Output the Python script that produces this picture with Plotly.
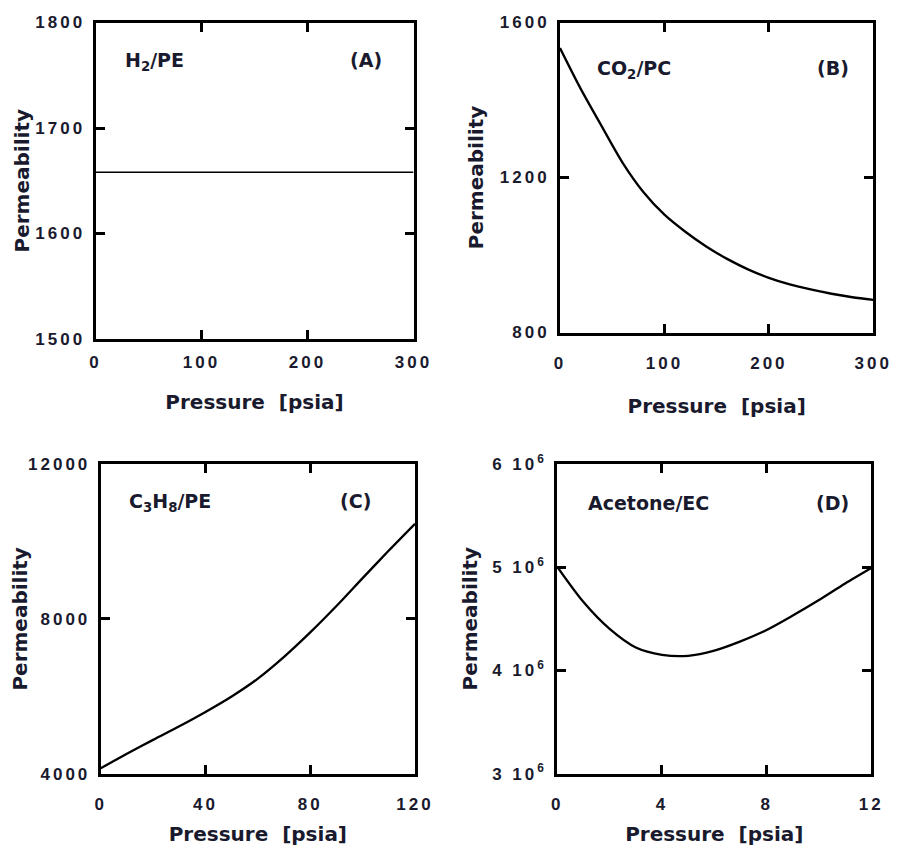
import plotly.graph_objects as go

PAGE_W, PAGE_H = 897, 854
BODY = 8                      # default body margin of the html page
W, H = PAGE_W - BODY, PAGE_H - 2 * BODY

# ---------------- data ----------------
a_pressure = [0, 300]
a_perm = [1658, 1658]

b_pressure = [0, 20, 40, 60, 80, 100, 120, 140, 160, 180, 200, 220, 240, 260, 280, 300]
b_perm = [1534, 1428, 1332, 1238, 1162, 1104, 1060, 1022, 990, 963, 941, 924, 911, 900, 891, 884]

c_pressure = [0, 10, 20, 30, 40, 50, 60, 70, 80, 90, 100, 110, 120]
c_perm = [4150, 4520, 4880, 5230, 5600, 6000, 6460, 7020, 7650, 8330, 9050, 9760, 10450]

d_pressure = [0, 1, 2, 3, 4, 5, 6, 7, 8, 9, 10, 11, 12]
d_perm = [5.00e6, 4.66e6, 4.40e6, 4.22e6, 4.15e6, 4.14e6, 4.19e6, 4.28e6,
          4.39e6, 4.53e6, 4.68e6, 4.84e6, 4.99e6]

a_xticks = [0, 100, 200, 300]
a_yticks = [1500, 1600, 1700, 1800]
b_xticks = [0, 100, 200, 300]
b_yticks = [800, 1200, 1600]
c_xticks = [0, 40, 80, 120]
c_yticks = [4000, 8000, 12000]
d_xticks = [0, 4, 8, 12]
d_yticks = [3e6, 4e6, 5e6, 6e6]
d_ytick_labels = ["3 10<sup>6</sup>", "4 10<sup>6</sup>", "5 10<sup>6</sup>", "6 10<sup>6</sup>"]

species = ["H<sub>2</sub>/PE", "CO<sub>2</sub>/PC", "C<sub>3</sub>H<sub>8</sub>/PE", "Acetone/EC"]
panel_tags = ["(A)", "(B)", "(C)", "(D)"]
x_title = "Pressure  [psia]"
y_title = "Permeability"

# ---------------- style ----------------
TXT = "#1a1a2e"
TICK_FAM = "Liberation Sans, Arial, sans-serif"
ANN_FAM = "DejaVu Sans, Verdana, sans-serif"
TICK_LS = 3


def sp(t, s):
    return f'<span style="letter-spacing:{s}px"><b>{t}</b></span>'


def fx(px):
    return (px - BODY) / W


def fy(py):
    return 1 - (py - BODY) / H


# panel frames in page pixels: (left, right, top, bottom)
frames = [
    (95.5, 413.5, 22.5, 339.0),
    (560.0, 873.3, 22.5, 332.5),
    (100.7, 415.0, 463.7, 774.0),
    (557.3, 871.3, 463.7, 773.6),
]
# per panel: (x ticklabel standoff, x title standoff, y title standoff)
offsets = [(6, 24.5, 1), (13, 28, 11), (13, 21.5, 2.5), (13, 23, 10)]

tickfont = dict(family=TICK_FAM, size=17, color=TXT, weight="bold")
annfont = dict(family=ANN_FAM, size=19, color=TXT, weight="bold")
titlefont = dict(family=ANN_FAM, size=20, color=TXT, weight="bold")


def axis(domain, rng, vals, texts, title, standoff, tls):
    return dict(domain=domain, range=rng, tickmode="array", tickvals=vals,
                ticktext=[sp(t, TICK_LS) for t in texts],
                showline=True, linewidth=3, linecolor="black", mirror="ticks",
                ticks="inside", ticklen=9, tickwidth=3, tickcolor="black",
                showgrid=False, zeroline=False, tickfont=tickfont,
                ticklabelstandoff=tls, ticklabeloverflow="allow", automargin=False,
                title=dict(text=title, font=titlefont, standoff=standoff))


fig = go.Figure()
series = [(a_pressure, a_perm, 1.5), (b_pressure, b_perm, 2.3),
          (c_pressure, c_perm, 2.3), (d_pressure, d_perm, 2.3)]
for i, (xs, ys, w) in enumerate(series):
    sfx = "" if i == 0 else str(i + 1)
    fig.add_trace(go.Scatter(x=xs, y=ys, mode="lines",
                             line=dict(color="black", width=w, shape="spline", smoothing=0.8),
                             xaxis="x" + sfx, yaxis="y" + sfx, showlegend=False, hoverinfo="skip"))

xranges = [[0, 300], [0, 300], [0, 120], [0, 12]]
yranges = [[1500, 1800], [800, 1600], [4000, 12000], [3e6, 6e6]]
xt = [a_xticks, b_xticks, c_xticks, d_xticks]
yt = [a_yticks, b_yticks, c_yticks, d_yticks]
ytt = [[str(v) for v in a_yticks], [str(v) for v in b_yticks], [str(v) for v in c_yticks], d_ytick_labels]

layout = dict(template="none", width=W, height=H, autosize=False,
              font=dict(family=ANN_FAM, size=19, color=TXT),
              margin=dict(l=0, r=0, t=0, b=0, pad=0, autoexpand=False),
              paper_bgcolor="white", plot_bgcolor="white", showlegend=False)
for i in range(4):
    l, r, t, b = frames[i]
    tls, xso, yso = offsets[i]
    sfx = "" if i == 0 else str(i + 1)
    xa = axis([fx(l), fx(r)], xranges[i], xt[i], [str(v) for v in xt[i]], x_title, xso, tls)
    xa["anchor"] = "y" + sfx
    ya = axis([fy(b), fy(t)], yranges[i], yt[i], ytt[i], y_title, yso, 4)
    ya["anchor"] = "x" + sfx
    layout["xaxis" + sfx] = xa
    layout["yaxis" + sfx] = ya
fig.update_layout(**layout)

# species labels (left x, center y), tags (center x, center y)
species_pos = [(123, 61), (595, 69), (126.7, 502), (586.3, 503)]
tag_pos = [(366, 60), (832.5, 68), (355, 501), (832, 503)]

for i in range(4):
    fig.add_annotation(x=fx(species_pos[i][0]), y=fy(species_pos[i][1]), xref="paper", yref="paper",
                       text=species[i], showarrow=False, xanchor="left", yanchor="middle", font=annfont)
    fig.add_annotation(x=fx(tag_pos[i][0]), y=fy(tag_pos[i][1]), xref="paper", yref="paper",
                       text=panel_tags[i], showarrow=False, xanchor="center", yanchor="middle", font=annfont)

fig.write_html("out.html")
